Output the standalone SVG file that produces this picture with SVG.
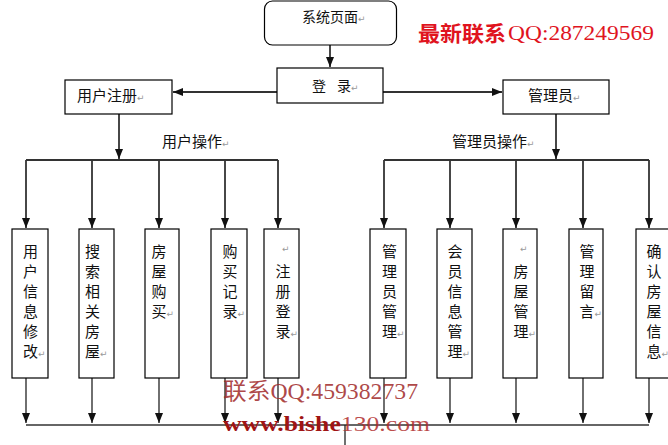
<svg xmlns="http://www.w3.org/2000/svg" width="668" height="445" viewBox="0 0 668 445">
<defs>
<marker id="ah" markerUnits="userSpaceOnUse" markerWidth="10" markerHeight="10" viewBox="0 0 10 10" refX="10" refY="5" orient="auto">
<path d="M0,1 L10,5 L0,9 Z" fill="#111"/>
</marker>
<style>
.box{fill:#fff;stroke:#000;stroke-width:1.2}
.t{font-family:"Noto Sans CJK SC","Noto Sans",sans-serif;font-size:15px;fill:#111}
.v{font-family:"Noto Sans CJK SC","Noto Sans",sans-serif;font-size:15px;fill:#111;text-anchor:middle}
.r{font-size:9px;fill:#999;font-family:"DejaVu Sans",sans-serif}
.c{fill:none;stroke:#333;stroke-width:1.8}
.cb{fill:none;stroke:#222;stroke-width:1.3}
.qq{font-family:"Liberation Serif",serif;font-size:22px;fill:#e0141e}
</style>
</defs>
<rect width="668" height="445" fill="#fff"/>

<g id="connectors">
<path class="c" d="M330,45 V67" marker-end="url(#ah)"/>
<path class="c" d="M277,92 H173" marker-end="url(#ah)"/>
<path class="c" d="M383,92 H502" marker-end="url(#ah)"/>
<path class="c" d="M119,114 V159" marker-end="url(#ah)"/>
<path class="c" d="M26,160 H278"/>
<path class="c" d="M26,160 V228" marker-end="url(#ah)"/>
<path class="c" d="M92,160 V228" marker-end="url(#ah)"/>
<path class="c" d="M159,160 V228" marker-end="url(#ah)"/>
<path class="c" d="M225,160 V228" marker-end="url(#ah)"/>
<path class="c" d="M278,160 V228" marker-end="url(#ah)"/>
<path class="c" d="M556,114 V159" marker-end="url(#ah)"/>
<path class="c" d="M384,160 H649"/>
<path class="c" d="M384,160 V228" marker-end="url(#ah)"/>
<path class="c" d="M450,160 V228" marker-end="url(#ah)"/>
<path class="c" d="M516,160 V228" marker-end="url(#ah)"/>
<path class="c" d="M583,160 V228" marker-end="url(#ah)"/>
<path class="c" d="M649,160 V228" marker-end="url(#ah)"/>
<path class="cb" d="M26,378 V423" marker-end="url(#ah)"/>
<path class="cb" d="M92,378 V423" marker-end="url(#ah)"/>
<path class="cb" d="M159,378 V423" marker-end="url(#ah)"/>
<path class="cb" d="M225,378 V423" marker-end="url(#ah)"/>
<path class="cb" d="M278,378 V423" marker-end="url(#ah)"/>
<path class="cb" d="M384,378 V423" marker-end="url(#ah)"/>
<path class="cb" d="M450,378 V423" marker-end="url(#ah)"/>
<path class="cb" d="M516,378 V423" marker-end="url(#ah)"/>
<path class="cb" d="M583,378 V423" marker-end="url(#ah)"/>
<path class="cb" d="M649,378 V423" marker-end="url(#ah)"/>
<path d="M26,425 H649" fill="none" stroke="#666" stroke-width="2"/>
<path d="M345,425 V445" fill="none" stroke="#222" stroke-width="1.3"/>
</g>

<g id="n-system">
<rect class="box" x="264.5" y="1" width="132" height="44" rx="8"/>
<text class="t" x="302" y="22" style="font-size:14px">系统页面<tspan class="r">↵</tspan></text>
</g>
<g id="n-login">
<rect class="box" x="277" y="68" width="106" height="35"/>
<text class="t" y="91" style="font-size:14px"><tspan x="312">登</tspan><tspan x="337">录</tspan><tspan class="r">↵</tspan></text>
</g>
<g id="n-userreg">
<rect class="box" x="65" y="80" width="107" height="34"/>
<text class="t" x="77" y="101">用户注册<tspan class="r">↵</tspan></text>
</g>
<g id="n-admin">
<rect class="box" x="503" y="80" width="106" height="34"/>
<text class="t" x="528" y="101">管理员<tspan class="r">↵</tspan></text>
</g>
<g id="lbl-userop">
<text class="t" x="162" y="147">用户操作<tspan class="r">↵</tspan></text>
</g>
<g id="lbl-adminop">
<text class="t" x="452" y="147">管理员操作<tspan class="r">↵</tspan></text>
</g>

<g id="n-u1">
<rect class="box" x="12" y="229" width="36" height="149"/>
<text class="v" x="30.5" y="257">用</text><text class="v" x="30.5" y="277">户</text><text class="v" x="30.5" y="297">信</text><text class="v" x="30.5" y="317">息</text><text class="v" x="30.5" y="337">修</text><text class="v" x="30.5" y="357">改</text><text class="r" x="38" y="357">↵</text>
</g>
<g id="n-u2">
<rect class="box" x="79" y="229" width="35" height="149"/>
<text class="v" x="92.5" y="257">搜</text><text class="v" x="92.5" y="277">索</text><text class="v" x="92.5" y="297">相</text><text class="v" x="92.5" y="317">关</text><text class="v" x="92.5" y="337">房</text><text class="v" x="92.5" y="357">屋</text><text class="r" x="100" y="357">↵</text>
</g>
<g id="n-u3">
<rect class="box" x="145" y="229" width="34" height="149"/>
<text class="v" x="159" y="257">房</text><text class="v" x="159" y="277">屋</text><text class="v" x="159" y="297">购</text><text class="v" x="159" y="317">买</text><text class="r" x="166.5" y="317">↵</text>
</g>
<g id="n-u4">
<rect class="box" x="211" y="229" width="36" height="149"/>
<text class="v" x="230" y="257">购</text><text class="v" x="230" y="277">买</text><text class="v" x="230" y="297">记</text><text class="v" x="230" y="317">录</text><text class="r" x="237.5" y="317">↵</text>
</g>
<g id="n-u5">
<rect class="box" x="264" y="229" width="35" height="149"/>
<text class="r" x="282" y="252">↵</text>
<text class="v" x="283" y="277">注</text><text class="v" x="283" y="297">册</text><text class="v" x="283" y="317">登</text><text class="v" x="283" y="337">录</text><text class="r" x="290.5" y="337">↵</text>
</g>

<g id="n-a1">
<rect class="box" x="370" y="229" width="36" height="149"/>
<text class="v" x="389.5" y="257">管</text><text class="v" x="389.5" y="277">理</text><text class="v" x="389.5" y="297">员</text><text class="v" x="389.5" y="317">管</text><text class="v" x="389.5" y="337">理</text><text class="r" x="397" y="337">↵</text>
</g>
<g id="n-a2">
<rect class="box" x="437" y="229" width="35" height="149"/>
<text class="v" x="455" y="257">会</text><text class="v" x="455" y="277">员</text><text class="v" x="455" y="297">信</text><text class="v" x="455" y="317">息</text><text class="v" x="455" y="337">管</text><text class="v" x="455" y="357">理</text><text class="r" x="462.5" y="357">↵</text>
</g>
<g id="n-a3">
<rect class="box" x="503" y="229" width="34" height="149"/>
<text class="r" x="520" y="252">↵</text>
<text class="v" x="521" y="277">房</text><text class="v" x="521" y="297">屋</text><text class="v" x="521" y="317">管</text><text class="v" x="521" y="337">理</text><text class="r" x="528.5" y="337">↵</text>
</g>
<g id="n-a4">
<rect class="box" x="569" y="229" width="34" height="149"/>
<text class="v" x="587" y="257">管</text><text class="v" x="587" y="277">理</text><text class="v" x="587" y="297">留</text><text class="v" x="587" y="317">言</text><text class="r" x="594.5" y="317">↵</text>
</g>
<g id="n-a5">
<rect class="box" x="636" y="229" width="36" height="149"/>
<text class="v" x="654" y="257">确</text><text class="v" x="654" y="277">认</text><text class="v" x="654" y="297">房</text><text class="v" x="654" y="317">屋</text><text class="v" x="654" y="337">信</text><text class="v" x="654" y="357">息</text><text class="r" x="661.5" y="357">↵</text>
</g>

<g id="watermarks">
<text x="418" y="41" font-family="Noto Sans CJK SC,sans-serif" font-size="21" font-weight="bold" fill="#e0141e" textLength="88" lengthAdjust="spacingAndGlyphs">最新联系</text>
<text class="qq" x="508" y="40" textLength="146" lengthAdjust="spacingAndGlyphs">QQ:287249569</text>
<text x="223" y="399" font-family="Liberation Serif,Noto Sans CJK SC,serif" font-size="23" fill="#a02828" fill-opacity="0.85" textLength="195" lengthAdjust="spacingAndGlyphs">联系QQ:459382737</text>
<text x="223" y="431" font-family="Liberation Serif,serif" font-size="22" fill="#a01414" textLength="207" lengthAdjust="spacingAndGlyphs"><tspan font-weight="bold">www.bishe</tspan><tspan fill="#b02c2c" fill-opacity="0.85">130.com</tspan></text>
</g>
</svg>
